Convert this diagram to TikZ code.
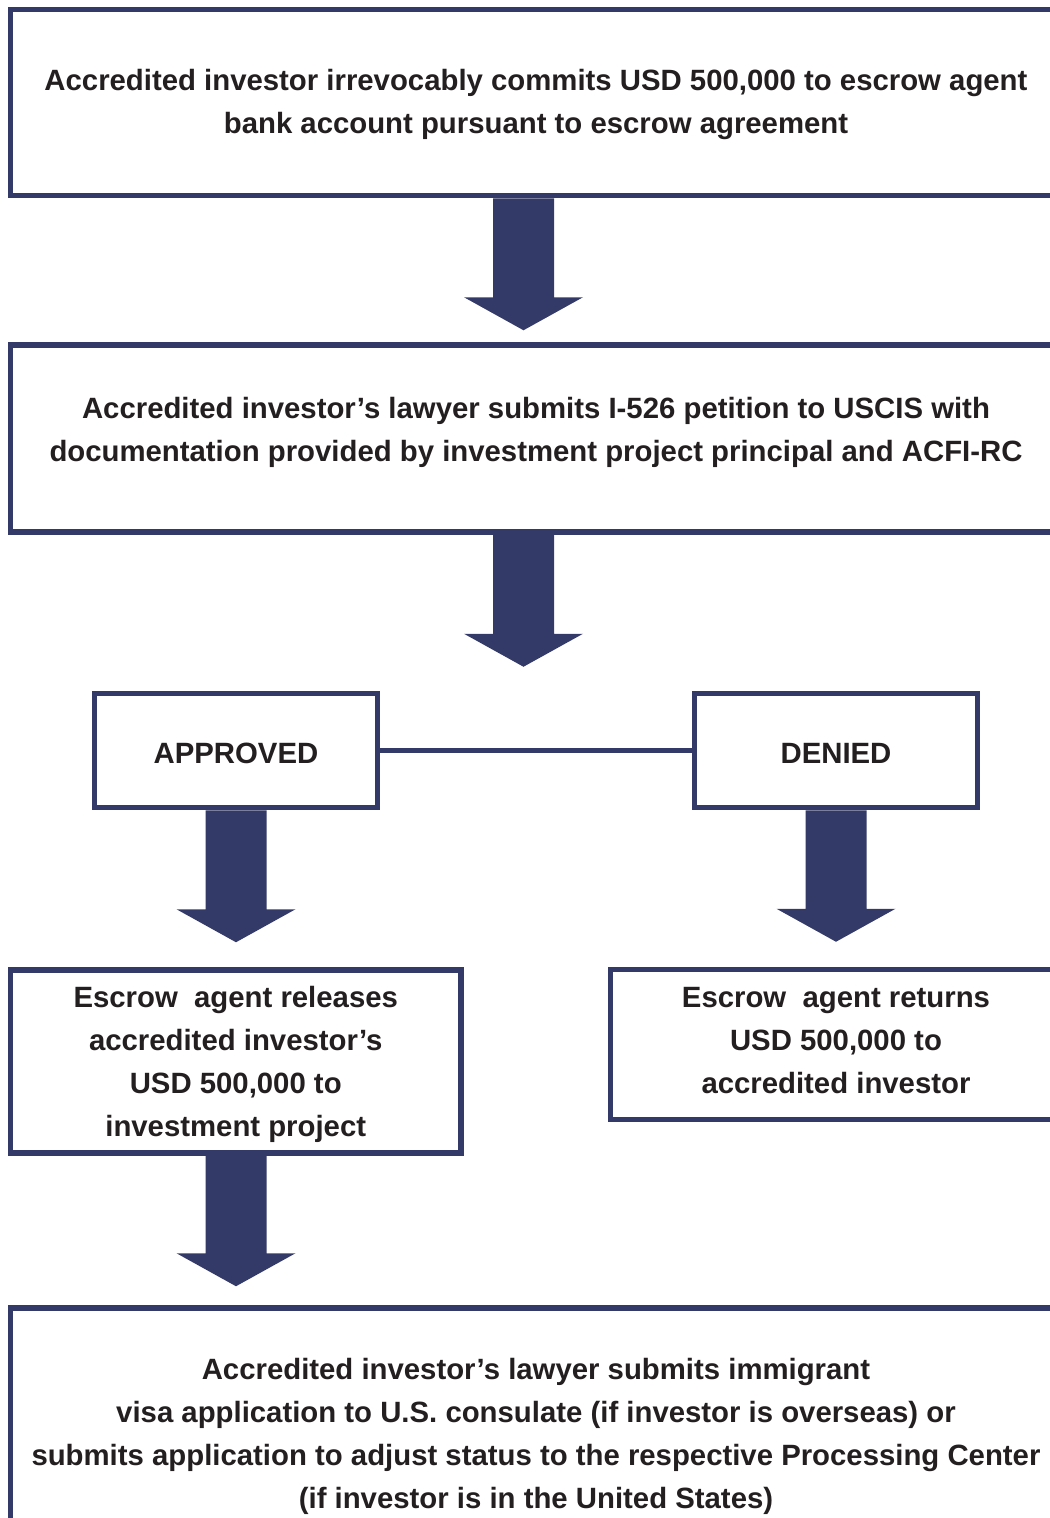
\documentclass[tikz,border=0pt]{standalone}
\usepackage{fontspec}
\setmainfont{Liberation Sans}
\usetikzlibrary{calc}
\definecolor{navy}{HTML}{343A68}
\definecolor{ink}{HTML}{231F20}
\newcommand\blockarrow[2]{%
  \fill[navy] let \p1=#1, \p2=#2 in
    (\x1-22.875pt,\y1) -- (\x1+22.875pt,\y1) -- (\x1+22.875pt,\y2+24.75pt)
    -- (\x1+44.625pt,\y2+24.75pt) -- (\x1,\y2) -- (\x1-44.625pt,\y2+24.75pt)
    -- (\x1-22.875pt,\y2+24.75pt) -- cycle;}
\begin{document}
\begin{tikzpicture}[x=0.75pt,y=-0.75pt,
  box/.style={draw=navy, line width=4.125pt, fill=white, inner sep=0pt},
  txt/.style={inner sep=0pt, align=center, text=ink,
    font=\bfseries\fontsize{22}{32.25}\selectfont},
  link/.style={draw=navy, line width=4.125pt}]
\useasboundingbox (0,0) rectangle (1050,1518);
\clip (0,0) rectangle (1050,1518);

\node[box, minimum width=1051*0.75pt, minimum height=186*0.75pt] (b1) at (536,102.5) {};
\node[txt] (t1) at ($(b1.center)+(0,2)$)
  {Accredited investor irrevocably commits USD 500,000 to escrow agent\\
   bank account pursuant to escrow agreement};
\node[box, minimum width=1051*0.75pt, minimum height=187*0.75pt] (b2) at (536,438.5) {};
\node[txt] (t2) at ($(b2.center)+(0,-6)$)
  {Accredited investor’s lawyer submits I-526 petition to USCIS with\\
   documentation provided by investment project principal and ACFI-RC};
\node[box, minimum width=283*0.75pt, minimum height=114*0.75pt] (ap) at (236,750.5) {};
\node[txt] (tap) at ($(ap.center)+(0,3)$) {APPROVED};
\node[box, minimum width=283*0.75pt, minimum height=114*0.75pt] (dn) at (836,750.5) {};
\node[txt] (tdn) at ($(dn.center)+(0,3)$) {DENIED};
\node[box, minimum width=450.5*0.75pt, minimum height=183*0.75pt] (rel) at (235.75,1061.5) {};
\node[txt] (trel) at ($(rel.center)+(0,3)$)
  {Escrow~~agent releases\\ accredited investor’s\\ USD 500,000 to\\ investment project};
\node[box, minimum width=451*0.75pt, minimum height=150*0.75pt] (ret) at (836,1044.5) {};
\node[txt] (tret) at ($(ret.center)+(0,-3.5)$)
  {Escrow~~agent returns\\ USD 500,000 to\\ accredited investor};
\node[box, minimum width=1051*0.75pt, minimum height=251*0.75pt] (fin) at (536,1433.5) {};
\node[txt] (tfin) at ($(fin.center)+(0,3)$)
  {Accredited investor’s lawyer submits immigrant\\
   visa application to U.S. consulate (if investor is overseas) or\\
   submits application to adjust status to the respective Processing Center\\
   (if investor is in the United States)};

\draw[link] (ap.east) -- (dn.west);

\coordinate (tip1) at ($(b2.north)+(-12.5,-12)$);
\coordinate (tip2) at ($(b2.south)+(-12.5,132)$);
\coordinate (tip3) at ($(rel.north)+(0.25,-25)$);
\coordinate (tip4) at ($(ret.north)+(0,-25)$);
\coordinate (tip5) at ($(fin.north)+(0,-19)$);
\blockarrow{($(b1.south)+(-12.5,0)$)}{(tip1)}
\blockarrow{($(b2.south)+(-12.5,0)$)}{(tip2)}
\blockarrow{(ap.south)}{(tip3)}
\blockarrow{(dn.south)}{(tip4)}
\blockarrow{($(rel.south)+(0.25,0)$)}{(tip5)}
\end{tikzpicture}
\end{document}
